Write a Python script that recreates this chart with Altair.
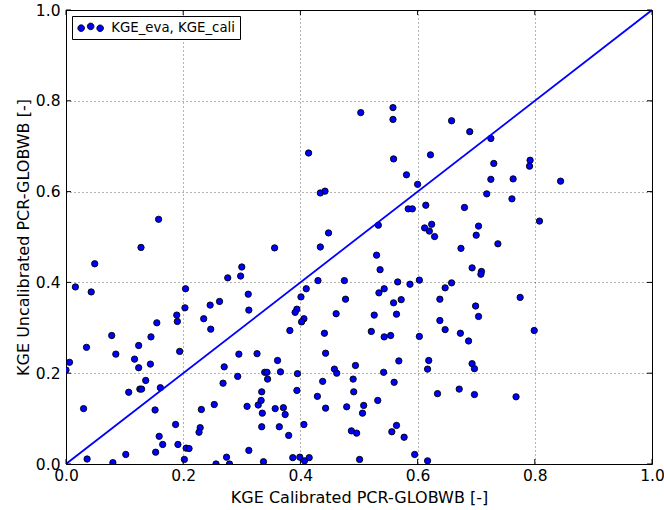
import altair as alt
import pandas as pd

# KGE of the calibrated model run (x) and of the uncalibrated run (y), one pair per station
kge_cali = [
    0.158, 0.503, 0.558, 0.558, 0.658, 0.414, 0.622, 0.559, 0.581, 0.600,
    0.434, 0.442, 0.584, 0.591, 0.614, 0.533, 0.448, 0.612, 0.624, 0.620,
    0.629, 0.689, 0.725, 0.730, 0.792, 0.791, 0.725, 0.763, 0.844, 0.718,
    0.761, 0.680, 0.808, 0.704, 0.700, 0.128, 0.049, 0.016, 0.043, 0.300,
    0.276, 0.298, 0.204, 0.311, 0.312, 0.262, 0.246, 0.203, 0.189, 0.190,
    0.235, 0.247, 0.155, 0.145, 0.078, 0.124, 0.035, 0.085, 0.194, 0.295,
    0.326, 0.117, 0.006, 0.144, 0.124, 0.000, 0.270, 0.293, 0.268, 0.136,
    0.161, 0.126, 0.129, 0.107, 0.030, 0.152, 0.231, 0.253, 0.309, 0.328,
    0.187, 0.229, 0.227, 0.159, 0.165, 0.191, 0.205, 0.210, 0.153, 0.102,
    0.312, 0.036, 0.080, 0.202, 0.274, 0.256, 0.279, 0.356, 0.434, 0.530,
    0.536, 0.430, 0.475, 0.410, 0.401, 0.394, 0.391, 0.406, 0.402, 0.382,
    0.477, 0.461, 0.441, 0.443, 0.361, 0.366, 0.339, 0.343, 0.344, 0.395,
    0.438, 0.458, 0.462, 0.494, 0.490, 0.491, 0.334, 0.333, 0.335, 0.357,
    0.371, 0.374, 0.394, 0.429, 0.443, 0.479, 0.508, 0.506, 0.532, 0.334,
    0.364, 0.406, 0.380, 0.487, 0.496, 0.556, 0.564, 0.577, 0.337, 0.387,
    0.399, 0.407, 0.415, 0.501, 0.595, 0.617, 0.526, 0.521, 0.543, 0.554,
    0.534, 0.543, 0.559, 0.564, 0.566, 0.572, 0.587, 0.603, 0.603, 0.647,
    0.658, 0.638, 0.638, 0.647, 0.568, 0.542, 0.560, 0.619, 0.617, 0.634,
    0.737, 0.674, 0.693, 0.709, 0.708, 0.775, 0.699, 0.704, 0.673, 0.687,
    0.799, 0.693, 0.697, 0.671, 0.697, 0.768,
]
kge_eva = [
    0.539, 0.774, 0.785, 0.759, 0.756, 0.685, 0.681, 0.672, 0.637, 0.616,
    0.597, 0.601, 0.562, 0.562, 0.570, 0.526, 0.509, 0.520, 0.528, 0.513,
    0.501, 0.732, 0.717, 0.662, 0.669, 0.656, 0.627, 0.628, 0.623, 0.595,
    0.584, 0.565, 0.535, 0.524, 0.504, 0.477, 0.441, 0.390, 0.379, 0.434,
    0.410, 0.414, 0.386, 0.374, 0.339, 0.358, 0.350, 0.344, 0.328, 0.314,
    0.320, 0.297, 0.311, 0.280, 0.283, 0.261, 0.257, 0.242, 0.248, 0.242,
    0.243, 0.231, 0.224, 0.220, 0.212, 0.207, 0.214, 0.193, 0.178, 0.184,
    0.168, 0.165, 0.165, 0.158, 0.122, 0.119, 0.120, 0.131, 0.127, 0.130,
    0.087, 0.080, 0.070, 0.061, 0.043, 0.043, 0.035, 0.034, 0.026, 0.021,
    0.030, 0.011, 0.003, 0.010, 0.015, 0.000, 0.000, 0.476, 0.478, 0.460,
    0.428, 0.404, 0.404, 0.386, 0.368, 0.341, 0.334, 0.320, 0.313, 0.294,
    0.363, 0.331, 0.288, 0.244, 0.228, 0.203, 0.202, 0.202, 0.187, 0.199,
    0.182, 0.209, 0.200, 0.217, 0.187, 0.159, 0.159, 0.140, 0.112, 0.122,
    0.124, 0.109, 0.162, 0.149, 0.123, 0.126, 0.129, 0.112, 0.140, 0.082,
    0.082, 0.087, 0.063, 0.073, 0.068, 0.071, 0.085, 0.059, 0.005, 0.014,
    0.015, 0.007, 0.014, 0.010, 0.021, 0.007, 0.328, 0.292, 0.280, 0.283,
    0.377, 0.386, 0.355, 0.330, 0.401, 0.362, 0.396, 0.405, 0.281, 0.388,
    0.399, 0.363, 0.316, 0.296, 0.227, 0.202, 0.180, 0.228, 0.209, 0.155,
    0.485, 0.475, 0.432, 0.424, 0.418, 0.367, 0.348, 0.325, 0.288, 0.271,
    0.294, 0.221, 0.210, 0.165, 0.153, 0.148,
]
series_label = "KGE_eva, KGE_cali"
axis_ticks = [0.0, 0.2, 0.4, 0.6, 0.8, 1.0]
one_to_one = [0.0, 1.0]

W, H = 586, 454
FONT = "DejaVu Sans"

points_df = pd.DataFrame({"cali": kge_cali, "eva": kge_eva, "series": series_label})
line_df = pd.DataFrame({"cali": one_to_one, "eva": one_to_one})
tick_df = pd.DataFrame({"t": axis_ticks})

xscale = alt.Scale(domain=[0, 1], nice=False, zero=False)
yscale = alt.Scale(domain=[0, 1], nice=False, zero=False)

# three markers side by side for the legend key, the middle one slightly raised
three_dots = (
    "M-5.12,0.2 a1.32,1.32 0 1,0 2.64,0 a1.32,1.32 0 1,0 -2.64,0 Z "
    "M-1.32,-0.5 a1.32,1.32 0 1,0 2.64,0 a1.32,1.32 0 1,0 -2.64,0 Z "
    "M2.48,0.24 a1.32,1.32 0 1,0 2.64,0 a1.32,1.32 0 1,0 -2.64,0 Z"
)

scatter = alt.Chart(points_df).mark_point(
    filled=True, size=40, stroke="black", strokeWidth=0.9, opacity=1, clip=True
).encode(
    x=alt.X("cali:Q", scale=xscale,
            axis=alt.Axis(values=axis_ticks, format=".1f", title="KGE Calibrated PCR-GLOBWB [-]",
                          labelPadding=4, titlePadding=6, labelFlush=False)),
    y=alt.Y("eva:Q", scale=yscale,
            axis=alt.Axis(values=axis_ticks, format=".1f", title="KGE Uncalibrated PCR-GLOBWB [-]",
                          labelPadding=6, titlePadding=4, labelFlush=False)),
    fill=alt.Fill("series:N", scale=alt.Scale(domain=[series_label], range=["#0000ff"]),
                  legend=alt.Legend(
                      title=None, orient="top-left", offset=6, padding=5,
                      strokeColor="black", fillColor="white", cornerRadius=0,
                      symbolType=three_dots, symbolSize=25,
                      symbolStrokeColor="black", symbolStrokeWidth=0.9,
                      symbolOffset=7, labelOffset=14,
                      labelFont=FONT, labelFontSize=13.3, labelColor="black")),
)

diagonal = alt.Chart(line_df).mark_line(color="#0000ff", strokeWidth=1.8, clip=True).encode(
    x=alt.X("cali:Q", scale=xscale), y=alt.Y("eva:Q", scale=yscale)
)

# inward tick marks on all four sides of the frame
tlen = 5
tick_style = dict(color="black", strokeWidth=1)
ticks_bottom = alt.Chart(tick_df).mark_rule(**tick_style).encode(
    x=alt.X("t:Q", scale=xscale), y=alt.value(H), y2=alt.value(H - tlen))
ticks_top = alt.Chart(tick_df).mark_rule(**tick_style).encode(
    x=alt.X("t:Q", scale=xscale), y=alt.value(0), y2=alt.value(tlen))
ticks_left = alt.Chart(tick_df).mark_rule(**tick_style).encode(
    y=alt.Y("t:Q", scale=yscale), x=alt.value(0), x2=alt.value(tlen))
ticks_right = alt.Chart(tick_df).mark_rule(**tick_style).encode(
    y=alt.Y("t:Q", scale=yscale), x=alt.value(W), x2=alt.value(W - tlen))

chart = alt.layer(
    scatter, diagonal, ticks_bottom, ticks_top, ticks_left, ticks_right
).properties(
    width=W, height=H,
    autosize=alt.AutoSizeParams(type="none"),
    padding={"left": 66, "top": 10, "right": 12, "bottom": 46},
    background="white",
).configure_view(
    stroke="black", strokeWidth=1
).configure_axis(
    labelFont=FONT, labelFontSize=15.5, labelColor="black",
    titleFont=FONT, titleFontSize=16, titleFontWeight="normal", titleColor="black",
    ticks=False, domain=False,
    grid=True, gridColor="black", gridDash=[1, 3], gridWidth=0.6, gridOpacity=1,
)

chart.save("out.html", embed_options={"renderer": "svg", "actions": False})
